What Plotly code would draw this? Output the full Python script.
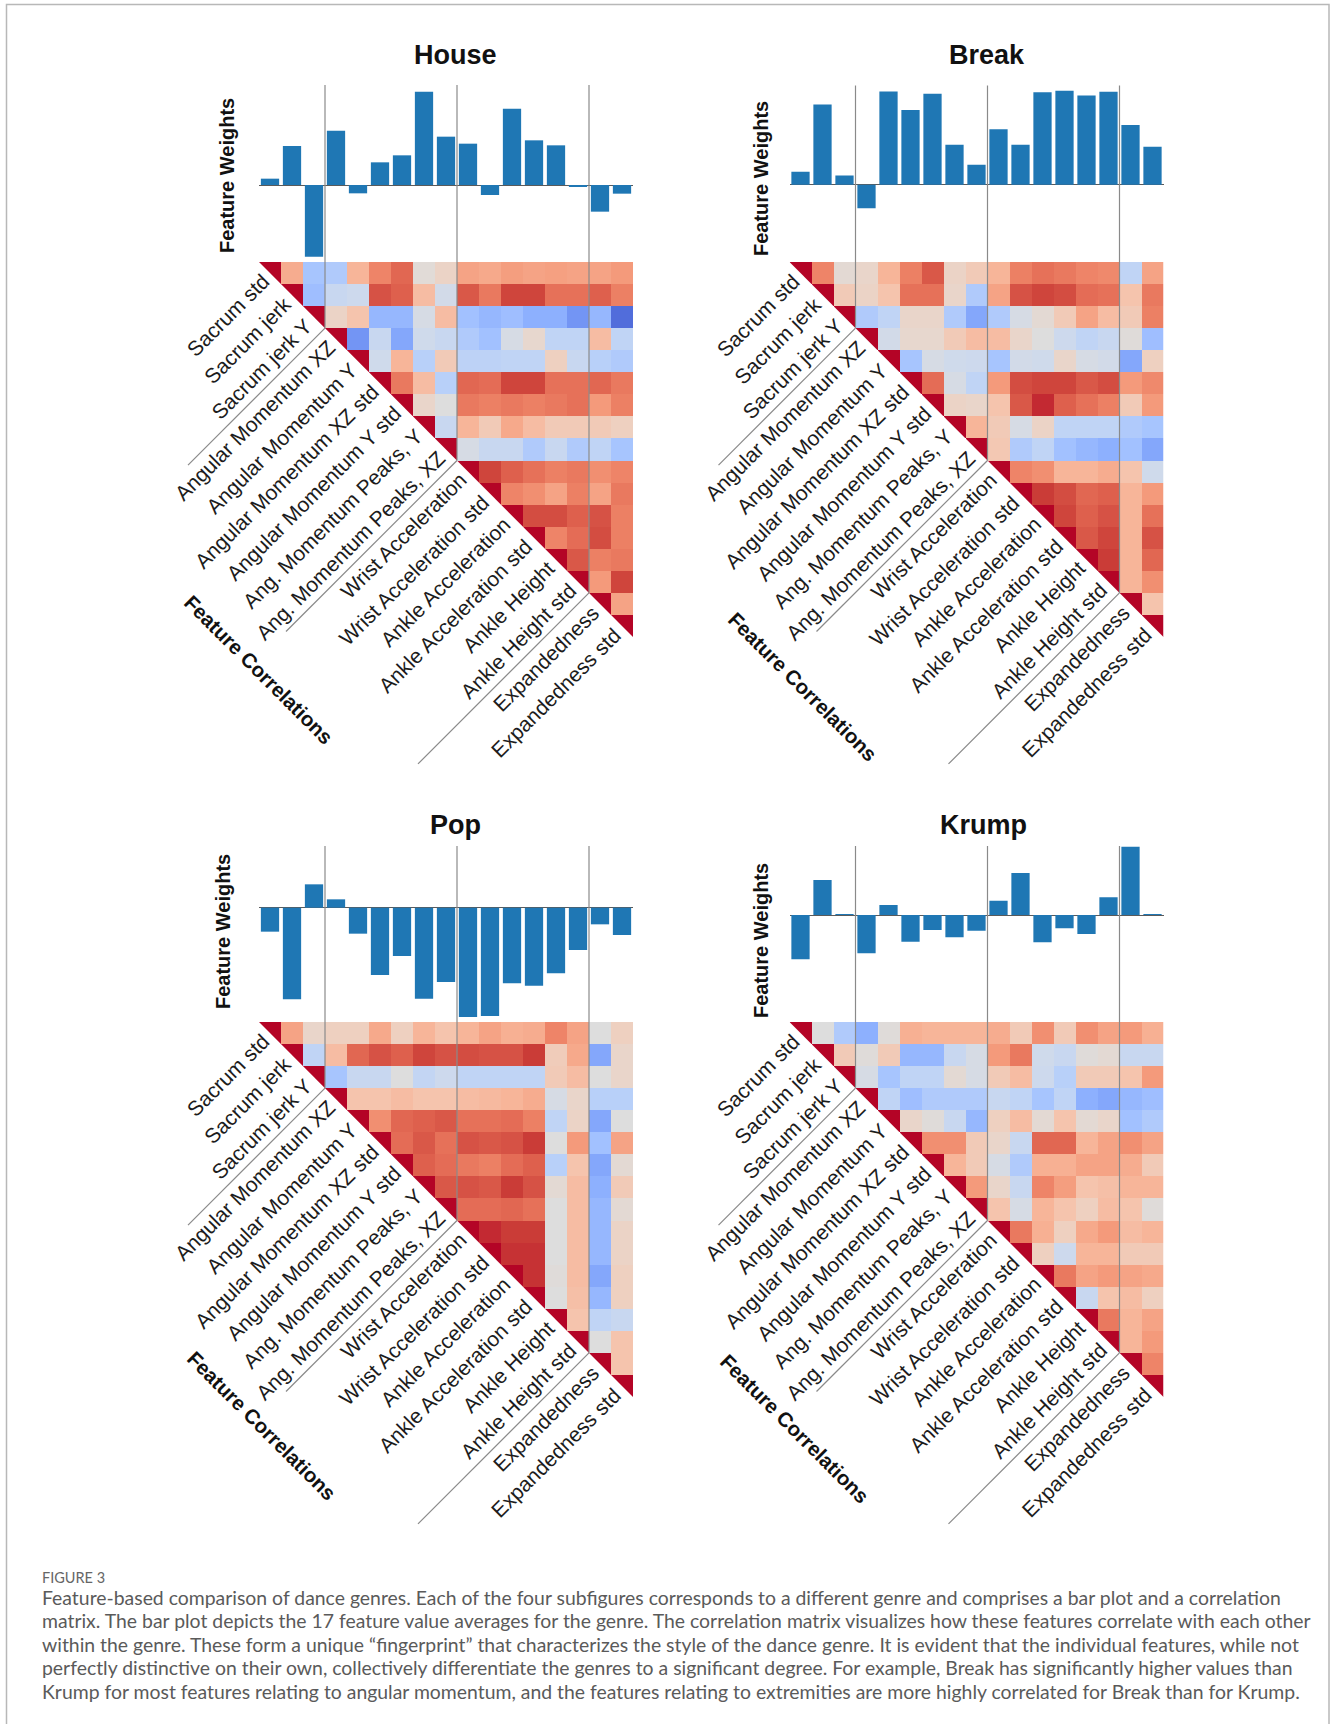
import plotly.graph_objects as go

# ---------------------------------------------------------------------------
# Data
# ---------------------------------------------------------------------------
features = [
    "Sacrum std", "Sacrum jerk", "Sacrum jerk Y",
    "Angular Momentum XZ", "Angular Momentum Y", "Angular Momentum XZ std",
    "Angular Momentum Y std", "Ang. Momentum Peaks, Y", "Ang. Momentum Peaks, XZ",
    "Wrist Acceleration", "Wrist Acceleration std", "Ankle Acceleration",
    "Ankle Acceleration std", "Ankle Height", "Ankle Height std",
    "Expandedness", "Expandedness std",
]
group_sizes = [3, 6, 6, 2]
genres = ["House", "Break", "Pop", "Krump"]

house_weights = [0.19, 1.17, -2.15, 1.63, -0.25, 0.68, 0.89, 2.80, 1.45,
                 1.24, -0.30, 2.29, 1.34, 1.19, -0.06, -0.80, -0.26]
break_weights = [0.39, 2.40, 0.28, -0.70, 2.79, 2.24, 2.72, 1.20, 0.60,
                 1.66, 1.20, 2.77, 2.81, 2.67, 2.78, 1.79, 1.14]
pop_weights = [-0.72, -2.75, 0.70, 0.25, -0.78, -2.02, -1.45, -2.73, -2.23,
               -3.28, -3.25, -2.27, -2.34, -1.97, -1.27, -0.50, -0.82]
krump_weights = [-1.33, 1.05, 0.01, -1.15, 0.30, -0.80, -0.45, -0.67, -0.47,
                 0.43, 1.26, -0.82, -0.40, -0.57, 0.53, 2.05, 0.03]

# upper triangle of each correlation matrix, row i holds columns i+1 .. 16
house_corr = [
    [0.40, -0.35, -0.30, 0.35, 0.60, 0.72, 0.03, 0.12, 0.45, 0.42, 0.48, 0.45, 0.47, 0.45, 0.45, 0.50],
    [-0.40, -0.15, -0.12, 0.80, 0.75, 0.30, -0.08, 0.78, 0.65, 0.85, 0.85, 0.68, 0.68, 0.75, 0.62],
    [0.12, 0.25, -0.45, -0.45, -0.05, 0.30, -0.38, -0.45, -0.40, -0.50, -0.50, -0.65, -0.45, -0.85],
    [-0.65, -0.15, -0.55, -0.10, -0.15, -0.30, -0.38, -0.05, 0.08, -0.20, -0.20, 0.30, -0.20],
    [-0.10, 0.35, -0.25, 0.20, -0.22, -0.22, -0.20, -0.20, 0.15, -0.15, -0.25, -0.30],
    [0.65, 0.30, -0.25, 0.72, 0.70, 0.85, 0.85, 0.68, 0.68, 0.72, 0.65],
    [0.10, 0.00, 0.65, 0.62, 0.65, 0.62, 0.65, 0.68, 0.50, 0.62],
    [-0.15, 0.35, 0.20, 0.42, 0.30, 0.20, 0.20, 0.20, 0.15],
    [-0.05, -0.15, -0.15, -0.30, -0.15, -0.30, -0.20, -0.35],
    [0.85, 0.75, 0.68, 0.62, 0.65, 0.55, 0.60],
    [0.60, 0.55, 0.45, 0.62, 0.45, 0.65],
    [0.82, 0.82, 0.75, 0.80, 0.62],
    [0.60, 0.70, 0.82, 0.62],
    [0.78, 0.62, 0.65],
    [0.50, 0.85],
    [0.45],
]
break_corr = [
    [0.60, 0.05, 0.10, 0.35, 0.62, 0.78, 0.12, 0.20, 0.35, 0.62, 0.68, 0.65, 0.60, 0.58, -0.20, 0.45],
    [0.20, 0.12, 0.25, 0.68, 0.68, 0.10, -0.30, 0.45, 0.80, 0.85, 0.82, 0.70, 0.68, 0.25, 0.65],
    [-0.30, -0.20, 0.10, 0.10, -0.30, -0.55, -0.30, -0.05, 0.05, 0.20, 0.45, 0.30, 0.20, 0.62],
    [-0.08, 0.08, 0.08, 0.20, 0.30, 0.30, 0.10, 0.00, -0.12, -0.20, -0.15, 0.02, -0.40],
    [-0.35, -0.05, -0.10, -0.12, -0.35, -0.08, -0.10, 0.10, -0.05, -0.08, -0.55, 0.15],
    [0.70, -0.05, -0.20, 0.50, 0.82, 0.85, 0.85, 0.78, 0.82, 0.50, 0.58],
    [0.12, 0.10, 0.25, 0.78, 0.92, 0.75, 0.68, 0.62, 0.20, 0.50],
    [0.35, 0.20, -0.05, 0.12, -0.20, -0.20, -0.20, -0.30, -0.35],
    [0.22, -0.30, -0.20, -0.38, -0.45, -0.50, -0.38, -0.55],
    [0.60, 0.55, 0.35, 0.35, 0.40, 0.25, -0.10],
    [0.88, 0.82, 0.72, 0.75, 0.35, 0.50],
    [0.85, 0.75, 0.80, 0.35, 0.68],
    [0.78, 0.85, 0.35, 0.80],
    [0.88, 0.35, 0.72],
    [0.35, 0.55],
    [0.25],
]
pop_corr = [
    [0.45, 0.10, 0.15, 0.15, 0.42, 0.15, 0.35, 0.25, 0.35, 0.45, 0.38, 0.40, 0.60, 0.45, 0.00, 0.15],
    [-0.20, 0.30, 0.72, 0.80, 0.75, 0.85, 0.80, 0.82, 0.80, 0.80, 0.88, 0.18, 0.42, -0.55, 0.10],
    [-0.35, -0.15, -0.15, 0.00, -0.18, -0.12, -0.20, -0.20, -0.20, -0.20, 0.20, 0.30, 0.00, 0.10],
    [0.25, 0.25, 0.30, 0.25, 0.25, 0.30, 0.32, 0.35, 0.40, -0.05, 0.10, -0.25, -0.25],
    [0.55, 0.72, 0.75, 0.78, 0.68, 0.68, 0.70, 0.62, -0.20, 0.12, -0.55, 0.00],
    [0.70, 0.78, 0.68, 0.80, 0.78, 0.80, 0.88, 0.00, 0.50, -0.38, 0.45],
    [0.75, 0.70, 0.65, 0.62, 0.70, 0.75, -0.25, 0.25, -0.55, 0.05],
    [0.78, 0.80, 0.78, 0.88, 0.80, 0.05, 0.30, -0.50, 0.20],
    [0.70, 0.70, 0.72, 0.68, 0.00, 0.30, -0.45, 0.05],
    [0.92, 0.88, 0.88, 0.00, 0.30, -0.45, 0.12],
    [0.90, 0.90, 0.00, 0.30, -0.45, 0.12],
    [0.90, 0.02, 0.30, -0.55, 0.15],
    [0.00, 0.28, -0.45, 0.15],
    [0.25, -0.20, -0.15],
    [0.00, 0.25],
    [0.25],
]
krump_corr = [
    [0.00, -0.30, -0.50, 0.02, 0.38, 0.35, 0.35, 0.35, 0.40, 0.20, 0.55, 0.20, 0.55, 0.45, 0.50, 0.38],
    [0.20, 0.02, 0.20, -0.45, -0.45, -0.15, -0.05, 0.50, 0.65, -0.10, -0.15, 0.02, 0.05, -0.15, -0.15],
    [-0.05, -0.35, -0.20, -0.20, 0.05, -0.05, 0.20, 0.30, -0.12, -0.25, 0.20, 0.20, 0.25, 0.50],
    [-0.20, -0.40, -0.30, -0.30, -0.30, -0.15, -0.20, -0.35, -0.20, -0.50, -0.55, -0.45, -0.40],
    [0.10, 0.02, -0.15, -0.45, 0.15, 0.30, 0.05, 0.25, 0.05, 0.10, -0.38, -0.30],
    [0.55, 0.55, 0.20, 0.10, -0.15, 0.72, 0.72, 0.35, 0.45, 0.55, 0.45],
    [0.35, 0.20, -0.05, -0.30, 0.38, 0.38, 0.45, 0.45, 0.40, 0.20],
    [0.50, 0.10, -0.15, 0.60, 0.48, 0.25, 0.28, 0.35, 0.35],
    [0.25, -0.05, 0.35, 0.25, 0.15, 0.30, 0.25, 0.02],
    [0.65, 0.38, 0.15, 0.42, 0.50, 0.30, 0.35],
    [0.15, -0.12, 0.35, 0.35, 0.20, 0.20],
    [0.65, 0.45, 0.50, 0.45, 0.42],
    [-0.15, 0.25, 0.30, 0.15],
    [0.65, 0.35, 0.45],
    [0.35, 0.50],
    [0.60],
]

caption_label = "FIGURE 3"
caption_lines = [
    "Feature-based comparison of dance genres. Each of the four subfigures corresponds to a different genre and comprises a bar plot and a correlation",
    "matrix. The bar plot depicts the 17 feature value averages for the genre. The correlation matrix visualizes how these features correlate with each other",
    "within the genre. These form a unique \u201cfingerprint\u201d that characterizes the style of the dance genre. It is evident that the individual features, while not",
    "perfectly distinctive on their own, collectively differentiate the genres to a significant degree. For example, Break has significantly higher values than",
    "Krump for most features relating to angular momentum, and the features relating to extremities are more highly correlated for Break than for Krump.",
]

# ---------------------------------------------------------------------------
# Styling / layout geometry (pixels)
# ---------------------------------------------------------------------------
W, H = 1335, 1724
N = len(features)
CELL_W = 22.0
CELL_H = 22.06
BAR_COLOR = "#1f77b4"
SEP_COLOR = "#8a8a8a"
LABEL_FONT = "Liberation Sans, Arial, Helvetica, sans-serif"

coolwarm = [
    [0.0, "rgb(59,76,192)"], [0.0625, "rgb(77,104,215)"], [0.125, "rgb(98,130,234)"],
    [0.1875, "rgb(119,154,247)"], [0.25, "rgb(141,176,254)"], [0.3125, "rgb(163,194,255)"],
    [0.375, "rgb(184,208,249)"], [0.4375, "rgb(204,217,238)"], [0.5, "rgb(221,221,221)"],
    [0.5625, "rgb(236,211,197)"], [0.625, "rgb(245,196,173)"], [0.6875, "rgb(247,177,148)"],
    [0.75, "rgb(244,154,123)"], [0.8125, "rgb(236,127,99)"], [0.875, "rgb(222,96,77)"],
    [0.9375, "rgb(203,62,56)"], [1.0, "rgb(180,4,38)"],
]

panels = [
    dict(name=genres[0], w=house_weights, c=house_corr, x0=259.0, y0=262.0, top=85.0,
         yr=(-2.31, 3.0), title=(455, 55), fw=(227, 176), fc=(259, 669)),
    dict(name=genres[1], w=break_weights, c=break_corr, x0=789.5, y0=262.0, top=85.5,
         yr=(-2.31, 2.97), title=(987, 55), fw=(761, 179), fc=(803, 686)),
    dict(name=genres[2], w=pop_weights, c=pop_corr, x0=259.0, y0=1022.0, top=846.0,
         yr=(-3.43, 1.85), title=(455, 825), fw=(223, 932), fc=(262, 1425)),
    dict(name=genres[3], w=krump_weights, c=krump_corr, x0=789.5, y0=1022.0, top=846.0,
         yr=(-3.21, 2.07), title=(983, 825), fw=(761, 941), fc=(795, 1428)),
]


def px(x):
    return x / W


def py(y):
    return 1 - y / H


def full_matrix(upper):
    m = [[None] * N for _ in range(N)]
    for i in range(N):
        m[i][i] = 1.0
        if i < N - 1:
            for k, v in enumerate(upper[i]):
                m[i][i + 1 + k] = v
    return m


# group boundaries (cell index where a new group starts)
bounds = []
acc = 0
for g in group_sizes[:-1]:
    acc += g
    bounds.append(acc)
diag_line_len = [137, 171, 171]

fig = go.Figure()
layout_axes = {}
shapes = []
annotations = []

for p, pan in enumerate(panels):
    bx, by = 2 * p + 1, 2 * p + 1
    hx, hy = 2 * p + 2, 2 * p + 2
    x0, y0 = pan["x0"], pan["y0"]
    x1 = x0 + CELL_W * N
    y1 = y0 + CELL_H * N
    xdom = [px(x0), px(x1)]

    def ax(n):
        return "" if n == 1 else str(n)

    # bar plot of feature weights
    fig.add_trace(go.Bar(
        x=list(range(N)), y=pan["w"], width=0.83,
        marker=dict(color=BAR_COLOR, line=dict(width=0)),
        xaxis="x" + ax(bx), yaxis="y" + ax(by), showlegend=False,
        hoverinfo="skip",
    ))
    layout_axes["xaxis" + ax(bx)] = dict(
        domain=xdom, range=[-0.5, N - 0.5], anchor="y" + ax(by),
        visible=False, fixedrange=True,
    )
    layout_axes["yaxis" + ax(by)] = dict(
        domain=[py(y0), py(pan["top"])], range=list(pan["yr"]), anchor="x" + ax(bx),
        showgrid=False, showticklabels=False, showline=False, ticks="",
        zeroline=True, zerolinecolor="#5a5a5a", zerolinewidth=1.2, fixedrange=True,
    )

    # correlation matrix
    fig.add_trace(go.Heatmap(
        z=full_matrix(pan["c"]), x=list(range(N)), y=list(range(N)),
        colorscale=coolwarm, zmin=-1, zmax=1, showscale=False,
        xaxis="x" + ax(hx), yaxis="y" + ax(hy), hoverinfo="skip",
    ))
    layout_axes["xaxis" + ax(hx)] = dict(
        domain=xdom, range=[-0.5, N - 0.5], anchor="y" + ax(hy),
        visible=False, fixedrange=True,
    )
    layout_axes["yaxis" + ax(hy)] = dict(
        domain=[py(y1), py(y0)], range=[N - 0.5, -0.5], anchor="x" + ax(hx),
        visible=False, fixedrange=True,
    )

    # mask the lower-left half of the matrix (cuts the diagonal cells in half)
    shapes.append(dict(
        type="path", xref="paper", yref="paper", layer="above",
        path=f"M {px(x0)},{py(y0)} L {px(x1)},{py(y1)} L {px(x0 - 1)},{py(y1)} L {px(x0 - 1)},{py(y0)} Z",
        fillcolor="white", line=dict(width=0),
    ))

    # group separators: vertical through bars/matrix, then outward from the diagonal
    for b, L in zip(bounds, diag_line_len):
        xb = x0 + CELL_W * b
        yb = y0 + CELL_H * b
        shapes.append(dict(
            type="line", xref="paper", yref="paper", layer="above",
            x0=px(xb), x1=px(xb), y0=py(pan["top"]), y1=py(yb),
            line=dict(color=SEP_COLOR, width=1.2),
        ))
        shapes.append(dict(
            type="line", xref="paper", yref="paper", layer="above",
            x0=px(xb), x1=px(xb - L), y0=py(yb), y1=py(yb + L),
            line=dict(color=SEP_COLOR, width=1.2),
        ))

    # feature names along the diagonal
    for i, name in enumerate(features):
        dxp = x0 + CELL_W * (i + 0.5)
        dyp = y0 + CELL_H * (i + 0.5)
        off = 6.0
        annotations.append(dict(
            text=name, xref="paper", yref="paper",
            x=px(dxp + off), y=py(dyp - off),
            xanchor="right", yanchor="top", textangle=-45, showarrow=False,
            font=dict(family=LABEL_FONT, size=21, color="#1c1c1c"),
        ))

    annotations.append(dict(
        text=f"<b>{pan['name']}</b>", xref="paper", yref="paper",
        x=px(pan["title"][0]), y=py(pan["title"][1]), xanchor="center", yanchor="middle",
        showarrow=False, font=dict(family=LABEL_FONT, size=27, color="#111111"),
    ))
    annotations.append(dict(
        text="<b>Feature Weights</b>", xref="paper", yref="paper",
        x=px(pan["fw"][0]), y=py(pan["fw"][1]), xanchor="center", yanchor="middle",
        textangle=-90, showarrow=False,
        font=dict(family=LABEL_FONT, size=20, color="#111111"),
    ))
    annotations.append(dict(
        text="<b>Feature Correlations</b>", xref="paper", yref="paper",
        x=px(pan["fc"][0]), y=py(pan["fc"][1]), xanchor="center", yanchor="middle",
        textangle=45, showarrow=False,
        font=dict(family=LABEL_FONT, size=20.5, color="#111111"),
    ))

# caption
CAP_FONT = "Lato, Open Sans, sans-serif"
annotations.append(dict(
    text=caption_label, xref="paper", yref="paper", x=px(40), y=py(1577),
    xanchor="left", yanchor="middle", showarrow=False,
    font=dict(family=CAP_FONT, size=14.5, color="#666666"),
))
cap_y = [1597, 1620.5, 1644, 1667.5, 1691]
for line, yy in zip(caption_lines, cap_y):
    annotations.append(dict(
        text=line, xref="paper", yref="paper", x=px(40), y=py(yy),
        xanchor="left", yanchor="middle", showarrow=False,
        font=dict(family=CAP_FONT, size=19.4, color="#5a5a5a"),
    ))

# frame around the figure
shapes.append(dict(
    type="rect", xref="paper", yref="paper", layer="below",
    x0=px(6.5), x1=px(1329), y0=py(4.5), y1=py(1760),
    line=dict(color="#b8b8b8", width=1.5), fillcolor="rgba(0,0,0,0)",
))

fig.update_layout(
    width=W, height=H, margin=dict(l=0, r=0, t=0, b=0),
    paper_bgcolor="white", plot_bgcolor="rgba(0,0,0,0)",
    bargap=0.17, shapes=shapes, annotations=annotations,
    **layout_axes,
)

fig.write_html("out.html", config={"displayModeBar": False})
